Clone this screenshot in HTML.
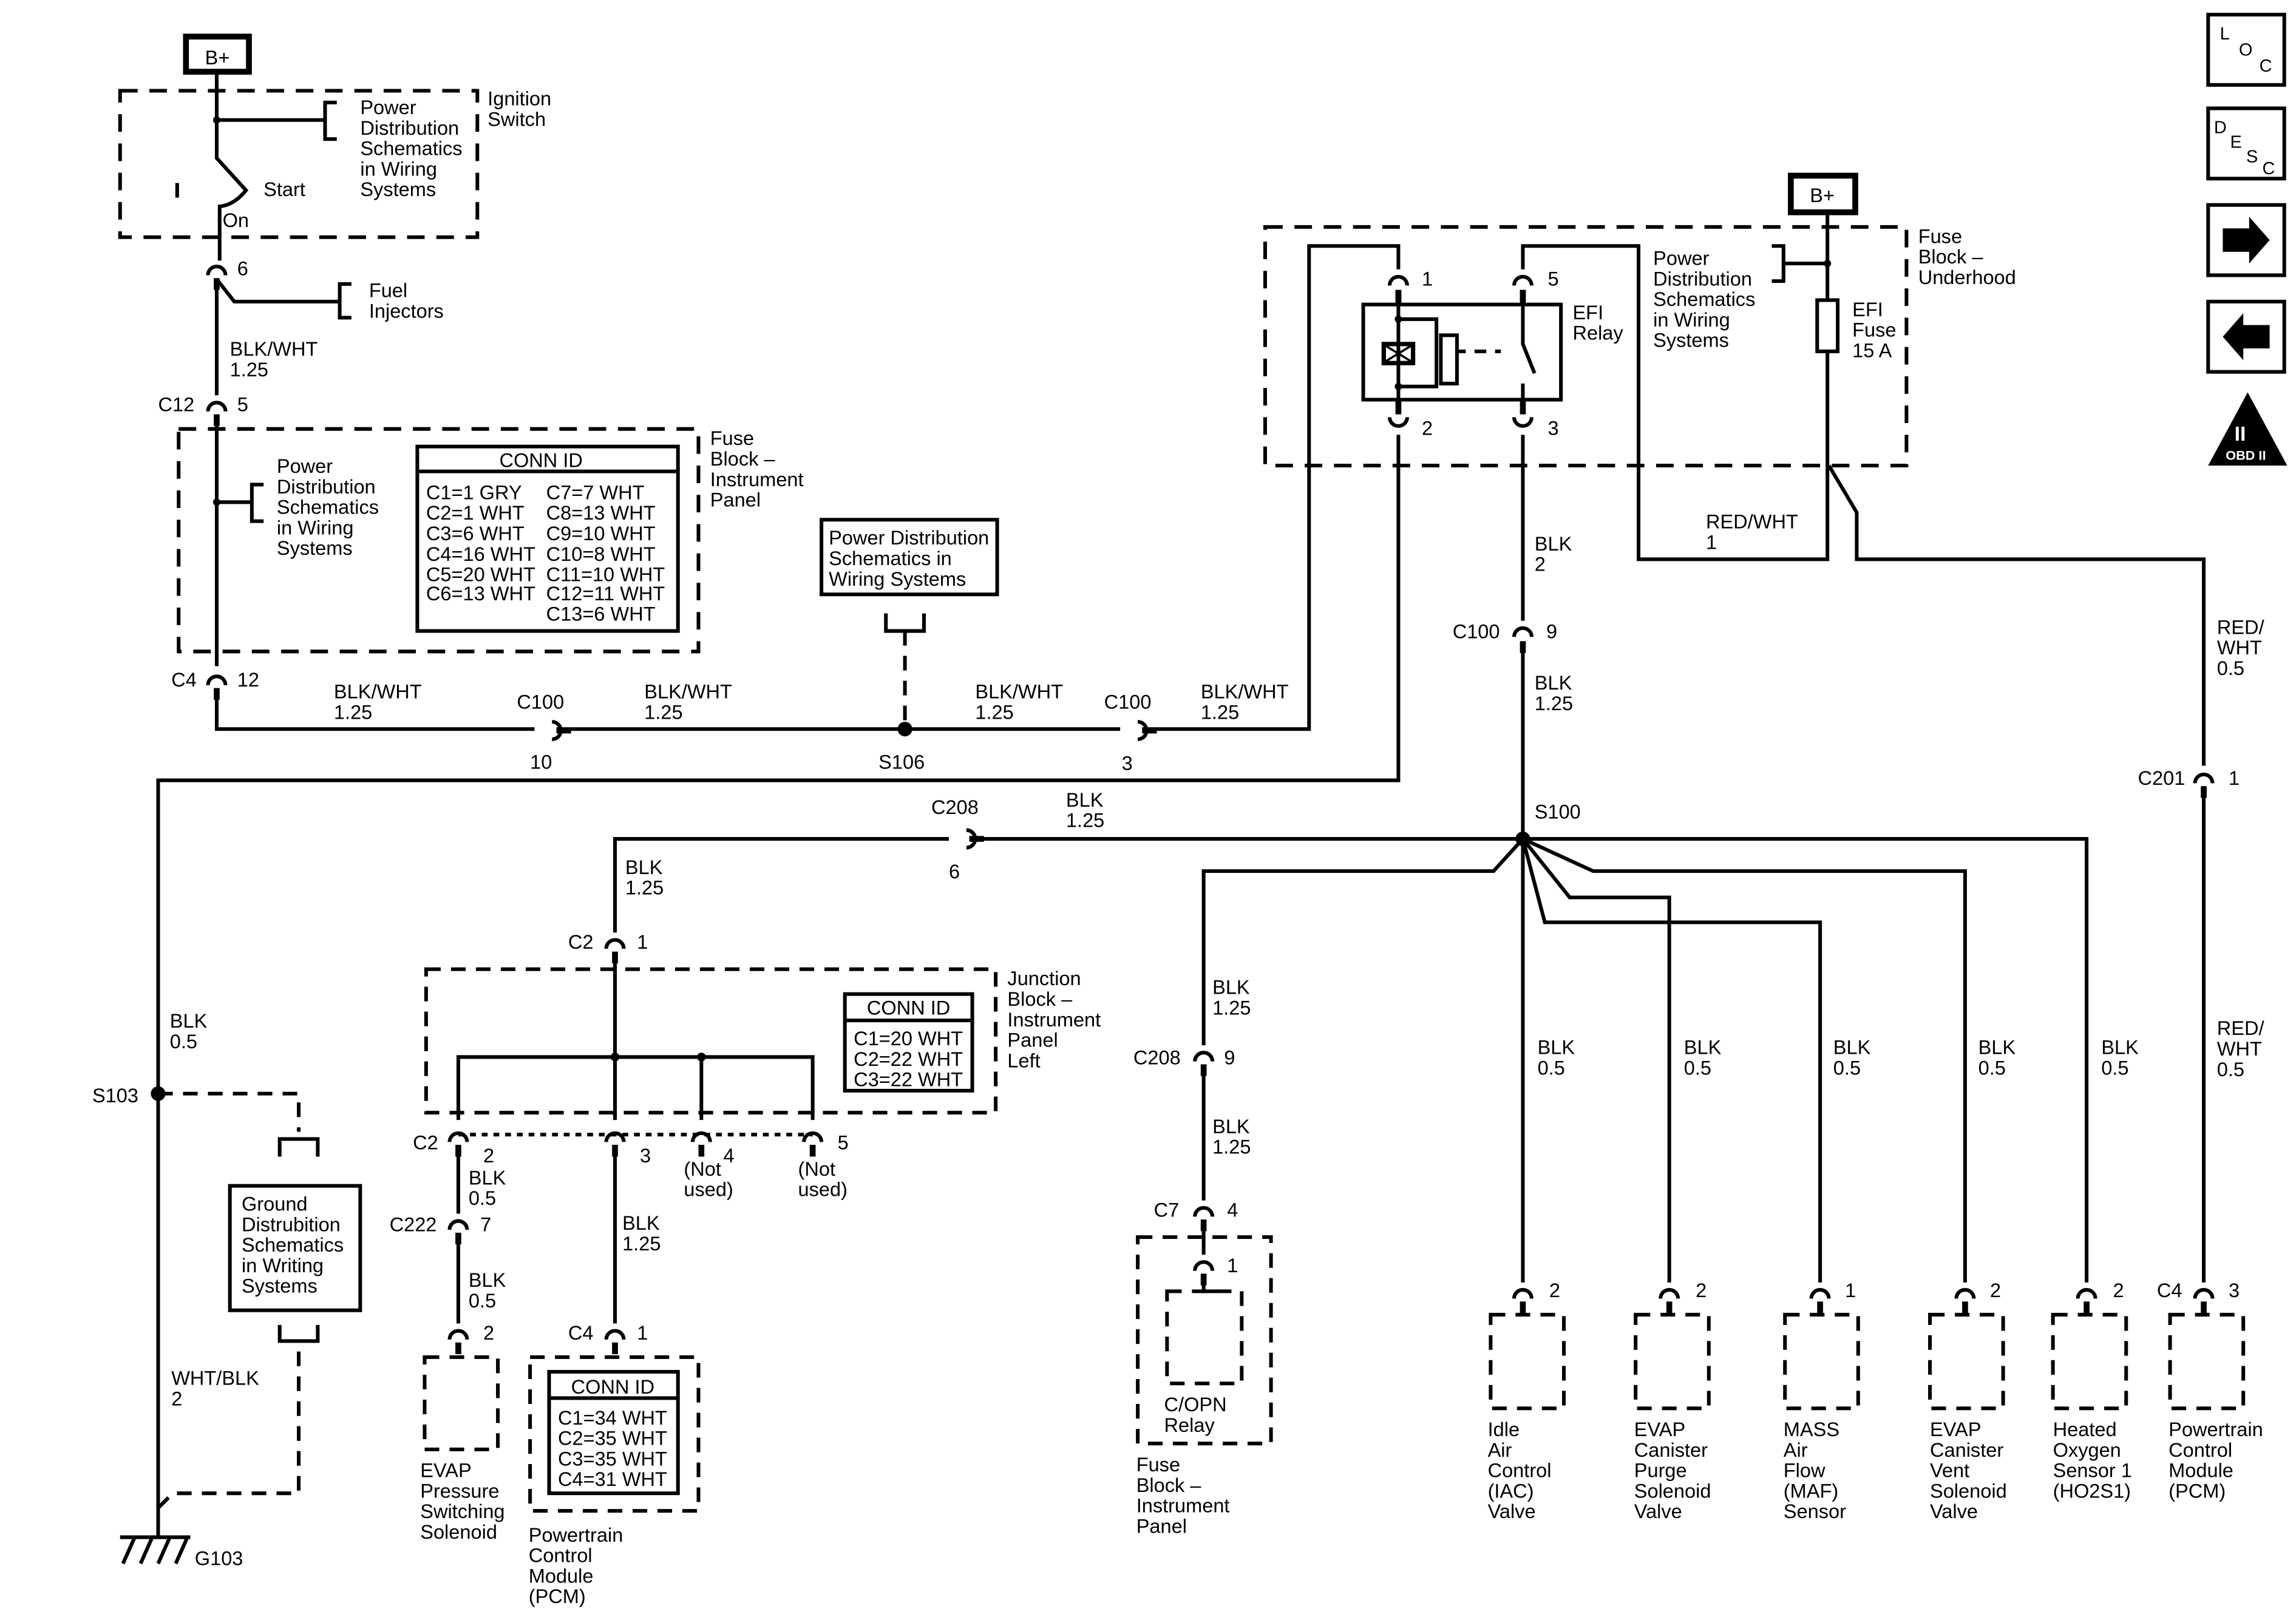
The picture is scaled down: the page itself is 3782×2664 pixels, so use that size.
<!DOCTYPE html>
<html><head><meta charset="utf-8"><style>
html,body{margin:0;padding:0;background:#fff}
svg{display:block}
text{font-family:"Liberation Sans",sans-serif;font-size:13.5px;fill:#000}
</style></head><body>
<svg width="3782" height="2664" viewBox="0 0 1568 1104.5" preserveAspectRatio="none" xmlns="http://www.w3.org/2000/svg">
<g fill="none" stroke="#000" stroke-width="2.5">
<!-- TOP LEFT -->
<rect x="127" y="25" width="43" height="24" stroke-width="4"/>
<rect x="82" y="62" width="244" height="100" stroke-dasharray="12 8"/>
<path d="M148 49 V108 L168 130 Q160 140 150 141 V178"/>
<path d="M148 82 H222 M230 70 H222 V95 H230"/>
<path d="M121 125 V135"/>
<path d="M148 190 V270 M149 192 L160 206 H232 M240 194 H232 V217 H240"/>
<rect x="285" y="305" width="178" height="126"/>
<path d="M285 322 H463"/>
<rect x="122" y="293" width="355" height="152" stroke-dasharray="12 8"/>
<path d="M148 283 V455 M148 343 H172 M180 331 H172 V356 H180"/>
<path d="M148 470 V498 H365 M380 498 H765 M780 498 H894 V168 H955 V184"/>
<rect x="561" y="355" width="120" height="51"/>
<path d="M605 419 V431 H631 V419"/>
<path d="M618 431 V498" stroke-dasharray="10 7"/>
<!-- TOP RIGHT -->
<rect x="1223" y="120" width="44" height="25" stroke-width="4"/>
<rect x="864" y="155" width="438" height="163" stroke-dasharray="12 8"/>
<path d="M1248 145 V205 M1248 240 V382 H1119 V168 H1040 V184"/>
<rect x="1241" y="205" width="14" height="35"/>
<path d="M1248 180 H1218 M1210 168 H1218 V192 H1210"/>
<path d="M1249 318 L1268 350 V382 H1505 V523"/>
<rect x="931" y="208" width="135" height="65"/>
<path d="M955 198 V208 M1040 198 V208 M955 273 V283 M1040 273 V283" stroke-width="4"/>
<path d="M955 208 V273 M955 218 H981 V250 M955 264 H981 V250"/>
<rect x="945" y="235" width="20" height="13" stroke-width="3"/>
<path d="M946 236 L964 247 M964 236 L946 247" stroke-width="1.5"/>
<rect x="984" y="229" width="11" height="33"/>
<path d="M996 240 H1001 M1007 240 H1015 M1021 240 H1025" />
<path d="M1040 208 V235 L1048 255 M1040 262 V273"/>
<!-- relay lower wires -->
<path d="M955 297 V533 H108 V1050"/>
<path d="M1040 297 V424 M1040 438 V573"/>
<!-- S100 fan -->
<path d="M1040 573 H662 M648 573 H420 V637 M420 652 V765"/>
<path d="M1040 573 H1425 V876"/>
<path d="M1040 573 L1020 595 H822 V714 M822 729 V820 M822 835 V857"/>
<path d="M1040 573 V876"/>
<path d="M1040 573 L1072 613 H1140 V876"/>
<path d="M1040 573 L1055 630 H1243 V876"/>
<path d="M1040 573 L1088 595 H1342 V876"/>
<path d="M1505 537 V876"/>
<!-- device boxes -->
<g stroke-dasharray="10 7">
<rect x="1018" y="898" width="50" height="64"/>
<rect x="1117" y="898" width="50" height="64"/>
<rect x="1219" y="898" width="50" height="64"/>
<rect x="1318" y="898" width="50" height="64"/>
<rect x="1402" y="898" width="50" height="64"/>
<rect x="1482" y="898" width="50" height="64"/>
<rect x="777" y="845" width="91" height="141"/>
<rect x="797" y="882" width="51" height="63"/>
<rect x="291" y="662" width="389" height="98"/>
<rect x="290" y="927" width="50" height="63"/>
<rect x="362" y="927" width="115" height="105"/>
</g>
<path d="M822 871 V882 H832"/>
<!-- junction block -->
<rect x="577" y="679" width="87" height="66"/>
<path d="M577 697 H664"/>
<path d="M313 765 V722 H555 V765 M420 722 V765 M479 722 V765"/>
<path d="M313 775 H555" stroke-dasharray="4 4"/>
<path d="M313 783 V829 M313 843 V904"/>
<path d="M420 783 V904"/>
<rect x="375" y="937" width="88" height="83"/>
<path d="M375 955 H463"/>
<!-- ground area -->
<path d="M108 747 H204 V773 M108 1030 L118 1020 H204 V916" stroke-dasharray="10 7"/>
<path d="M191 790 V778 H217 V790 M191 905 V916 H217 V905"/>
<rect x="157" y="810" width="89" height="85"/>
<path d="M82 1050 H130 M92 1050 L84 1068 M104 1050 L96 1068 M116 1050 L108 1068 M128 1050 L120 1068"/>
<!-- right icons -->
<rect x="1508" y="10" width="52" height="48"/>
<rect x="1508" y="74" width="52" height="48"/>
<rect x="1508" y="140" width="52" height="48"/>
<rect x="1508" y="206" width="52" height="48"/>
</g>
<!-- connectors n-type: arc opening down, thick stub below -->
<g fill="none" stroke="#000" stroke-width="2.5">
<path d="M142 188 A6 6 0 0 1 154 188 M142 281 A6 6 0 0 1 154 281 M142 468 A6 6 0 0 1 154 468
M949 195 A6 6 0 0 1 961 195 M1034 195 A6 6 0 0 1 1046 195
M1034 435 A6 6 0 0 1 1046 435
M414 648 A6 6 0 0 1 426 648
M307 780 A6 6 0 0 1 319 780 M414 780 A6 6 0 0 1 426 780 M473 780 A6 6 0 0 1 485 780 M549 780 A6 6 0 0 1 561 780
M307 840 A6 6 0 0 1 319 840 M307 915 A6 6 0 0 1 319 915 M414 915 A6 6 0 0 1 426 915
M816 725 A6 6 0 0 1 828 725 M816 831 A6 6 0 0 1 828 831 M816 868 A6 6 0 0 1 828 868
M1034 887 A6 6 0 0 1 1046 887 M1134 887 A6 6 0 0 1 1146 887 M1237 887 A6 6 0 0 1 1249 887 M1336 887 A6 6 0 0 1 1348 887 M1419 887 A6 6 0 0 1 1431 887 M1499 887 A6 6 0 0 1 1511 887
M1499 535 A6 6 0 0 1 1511 535
M949 285 A6 6 0 0 0 961 285 M1034 285 A6 6 0 0 0 1046 285
M377 493 A6 6 0 0 1 377 505 M777 493 A6 6 0 0 1 777 505 M660 567 A6 6 0 0 1 660 579"/>
</g>
<g stroke="#000" stroke-width="4">
<path d="M148 190 V198 M148 283 V291 M148 470 V478 M955 198 V206 M1040 198 V206 M1040 438 V446 M420 650 V658 M313 782 V790 M420 782 V790 M479 782 V790 M555 782 V790 M313 842 V850 M313 917 V925 M420 917 V925 M822 727 V735 M822 833 V841 M822 870 V878 M1040 889 V897 M1140 889 V897 M1243 889 V897 M1342 889 V897 M1425 889 V897 M1505 889 V897 M1505 537 V545 M380 499 H390 M780 499 H790 M662 573 H672"/>
</g>
<g fill="#000">
<circle cx="148" cy="82" r="2.5"/><circle cx="148" cy="343" r="2.5"/><circle cx="618" cy="498" r="5"/>
<circle cx="1248" cy="180" r="2.5"/><circle cx="955" cy="218" r="2.5"/><circle cx="955" cy="264" r="2.5"/>
<circle cx="1040" cy="573" r="5"/><circle cx="108" cy="747" r="5"/><circle cx="420" cy="722" r="3"/><circle cx="479" cy="722" r="3"/>
<path d="M1518 156 H1536 V148 L1550 164 L1536 180 V172 H1518 Z"/>
<path d="M1550 222 H1532 V214 L1518 230 L1532 246 V238 H1550 Z"/>
<path d="M1535 268 L1562 318 H1508 Z"/>
</g>
<!-- TEXT -->
<text x="140" y="44">B+</text>
<text x="1236" y="138">B+</text>
<text x="246" y="78">Power</text><text x="246" y="92">Distribution</text><text x="246" y="106">Schematics</text><text x="246" y="120">in Wiring</text><text x="246" y="134">Systems</text>
<text x="333" y="72">Ignition</text><text x="333" y="86">Switch</text>
<text x="180" y="134">Start</text><text x="152" y="155">On</text>
<text x="162" y="188">6</text>
<text x="252" y="203">Fuel</text><text x="252" y="217">Injectors</text>
<text x="157" y="243">BLK/WHT</text><text x="157" y="257">1.25</text>
<text x="108" y="281">C12</text><text x="162" y="281">5</text>
<text x="189" y="323">Power</text><text x="189" y="337">Distribution</text><text x="189" y="351">Schematics</text><text x="189" y="365">in Wiring</text><text x="189" y="379">Systems</text>
<text x="341" y="319">CONN ID</text>
<text x="291" y="341">C1=1 GRY</text><text x="373" y="341">C7=7 WHT</text>
<text x="291" y="355">C2=1 WHT</text><text x="373" y="355">C8=13 WHT</text>
<text x="291" y="369">C3=6 WHT</text><text x="373" y="369">C9=10 WHT</text>
<text x="291" y="383">C4=16 WHT</text><text x="373" y="383">C10=8 WHT</text>
<text x="291" y="397">C5=20 WHT</text><text x="373" y="397">C11=10 WHT</text>
<text x="291" y="410">C6=13 WHT</text><text x="373" y="410">C12=11 WHT</text>
<text x="373" y="424">C13=6 WHT</text>
<text x="485" y="304">Fuse</text><text x="485" y="318">Block –</text><text x="485" y="332">Instrument</text><text x="485" y="346">Panel</text>
<text x="117" y="469">C4</text><text x="162" y="469">12</text>
<text x="228" y="477">BLK/WHT</text><text x="228" y="491">1.25</text>
<text x="353" y="484">C100</text><text x="362" y="525">10</text>
<text x="440" y="477">BLK/WHT</text><text x="440" y="491">1.25</text>
<text x="566" y="372">Power Distribution</text><text x="566" y="386">Schematics in</text><text x="566" y="400">Wiring  Systems</text>
<text x="600" y="525">S106</text>
<text x="666" y="477">BLK/WHT</text><text x="666" y="491">1.25</text>
<text x="754" y="484">C100</text><text x="766" y="526">3</text>
<text x="820" y="477">BLK/WHT</text><text x="820" y="491">1.25</text>
<text x="971" y="195">1</text><text x="1057" y="195">5</text><text x="971" y="297">2</text><text x="1057" y="297">3</text>
<text x="1074" y="218">EFI</text><text x="1074" y="232">Relay</text>
<text x="1129" y="181">Power</text><text x="1129" y="195">Distribution</text><text x="1129" y="209">Schematics</text><text x="1129" y="223">in Wiring</text><text x="1129" y="237">Systems</text>
<text x="1265" y="216">EFI</text><text x="1265" y="230">Fuse</text><text x="1265" y="244">15 A</text>
<text x="1310" y="166">Fuse</text><text x="1310" y="180">Block –</text><text x="1310" y="194">Underhood</text>
<text x="1165" y="361">RED/WHT</text><text x="1165" y="375">1</text>
<text x="1048" y="376">BLK</text><text x="1048" y="390">2</text>
<text x="992" y="436">C100</text><text x="1056" y="436">9</text>
<text x="1048" y="471">BLK</text><text x="1048" y="485">1.25</text>
<text x="1048" y="559">S100</text>
<text x="1514" y="433">RED/</text><text x="1514" y="447">WHT</text><text x="1514" y="461">0.5</text>
<text x="1460" y="536">C201</text><text x="1522" y="536">1</text>
<text x="636" y="556">C208</text><text x="648" y="600">6</text>
<text x="728" y="551">BLK</text><text x="728" y="565">1.25</text>
<text x="427" y="597">BLK</text><text x="427" y="611">1.25</text>
<text x="388" y="648">C2</text><text x="435" y="648">1</text>
<text x="688" y="673">Junction</text><text x="688" y="687">Block –</text><text x="688" y="701">Instrument</text><text x="688" y="715">Panel</text><text x="688" y="729">Left</text>
<text x="592" y="693">CONN ID</text>
<text x="583" y="714">C1=20 WHT</text><text x="583" y="728">C2=22 WHT</text><text x="583" y="742">C3=22 WHT</text>
<text x="282" y="785">C2</text><text x="330" y="794">2</text><text x="437" y="794">3</text><text x="494" y="794">4</text><text x="572" y="785">5</text>
<text x="467" y="803">(Not</text><text x="467" y="817">used)</text><text x="545" y="803">(Not</text><text x="545" y="817">used)</text>
<text x="320" y="809">BLK</text><text x="320" y="823">0.5</text>
<text x="266" y="841">C222</text><text x="328" y="841">7</text>
<text x="320" y="879">BLK</text><text x="320" y="893">0.5</text>
<text x="330" y="915">2</text>
<text x="287" y="1009">EVAP</text><text x="287" y="1023">Pressure</text><text x="287" y="1037">Switching</text><text x="287" y="1051">Solenoid</text>
<text x="425" y="840">BLK</text><text x="425" y="854">1.25</text>
<text x="388" y="915">C4</text><text x="435" y="915">1</text>
<text x="390" y="952">CONN ID</text>
<text x="381" y="973">C1=34 WHT</text><text x="381" y="987">C2=35 WHT</text><text x="381" y="1001">C3=35 WHT</text><text x="381" y="1015">C4=31 WHT</text>
<text x="361" y="1053">Powertrain</text><text x="361" y="1067">Control</text><text x="361" y="1081">Module</text><text x="361" y="1095">(PCM)</text>
<text x="116" y="702">BLK</text><text x="116" y="716">0.5</text>
<text x="63" y="753">S103</text>
<text x="165" y="827">Ground</text><text x="165" y="841">Distrubition</text><text x="165" y="855">Schematics</text><text x="165" y="869">in Writing</text><text x="165" y="883">Systems</text>
<text x="117" y="946">WHT/BLK</text><text x="117" y="960">2</text>
<text x="133" y="1069">G103</text>
<text x="828" y="679">BLK</text><text x="828" y="693">1.25</text>
<text x="774" y="727">C208</text><text x="836" y="727">9</text>
<text x="828" y="774">BLK</text><text x="828" y="788">1.25</text>
<text x="788" y="831">C7</text><text x="838" y="831">4</text><text x="838" y="869">1</text>
<text x="795" y="964">C/OPN</text><text x="795" y="978">Relay</text>
<text x="776" y="1005">Fuse</text><text x="776" y="1019">Block –</text><text x="776" y="1033">Instrument</text><text x="776" y="1047">Panel</text>
<text x="1050" y="720">BLK</text><text x="1050" y="734">0.5</text>
<text x="1150" y="720">BLK</text><text x="1150" y="734">0.5</text>
<text x="1252" y="720">BLK</text><text x="1252" y="734">0.5</text>
<text x="1351" y="720">BLK</text><text x="1351" y="734">0.5</text>
<text x="1435" y="720">BLK</text><text x="1435" y="734">0.5</text>
<text x="1514" y="707">RED/</text><text x="1514" y="721">WHT</text><text x="1514" y="735">0.5</text>
<text x="1058" y="886">2</text><text x="1158" y="886">2</text><text x="1260" y="886">1</text><text x="1359" y="886">2</text><text x="1443" y="886">2</text>
<text x="1473" y="886">C4</text><text x="1522" y="886">3</text>
<text x="1016" y="981">Idle</text><text x="1016" y="995">Air</text><text x="1016" y="1009">Control</text><text x="1016" y="1023">(IAC)</text><text x="1016" y="1037">Valve</text>
<text x="1116" y="981">EVAP</text><text x="1116" y="995">Canister</text><text x="1116" y="1009">Purge</text><text x="1116" y="1023">Solenoid</text><text x="1116" y="1037">Valve</text>
<text x="1218" y="981">MASS</text><text x="1218" y="995">Air</text><text x="1218" y="1009">Flow</text><text x="1218" y="1023">(MAF)</text><text x="1218" y="1037">Sensor</text>
<text x="1318" y="981">EVAP</text><text x="1318" y="995">Canister</text><text x="1318" y="1009">Vent</text><text x="1318" y="1023">Solenoid</text><text x="1318" y="1037">Valve</text>
<text x="1402" y="981">Heated</text><text x="1402" y="995">Oxygen</text><text x="1402" y="1009">Sensor 1</text><text x="1402" y="1023">(HO2S1)</text>
<text x="1481" y="981">Powertrain</text><text x="1481" y="995">Control</text><text x="1481" y="1009">Module</text><text x="1481" y="1023">(PCM)</text>
<text x="1516" y="27" style="font-size:12px">L</text><text x="1529" y="38" style="font-size:12px">O</text><text x="1543" y="49" style="font-size:12px">C</text>
<text x="1512" y="91" style="font-size:12px">D</text><text x="1523" y="101" style="font-size:12px">E</text><text x="1534" y="111" style="font-size:12px">S</text><text x="1545" y="119" style="font-size:12px">C</text>
<text x="1526" y="301" style="font-size:14px;font-weight:bold;fill:#fff">II</text>
<text x="1520" y="314" style="font-size:9px;font-weight:bold;fill:#fff">OBD II</text>
</g>
</svg>
</body></html>
